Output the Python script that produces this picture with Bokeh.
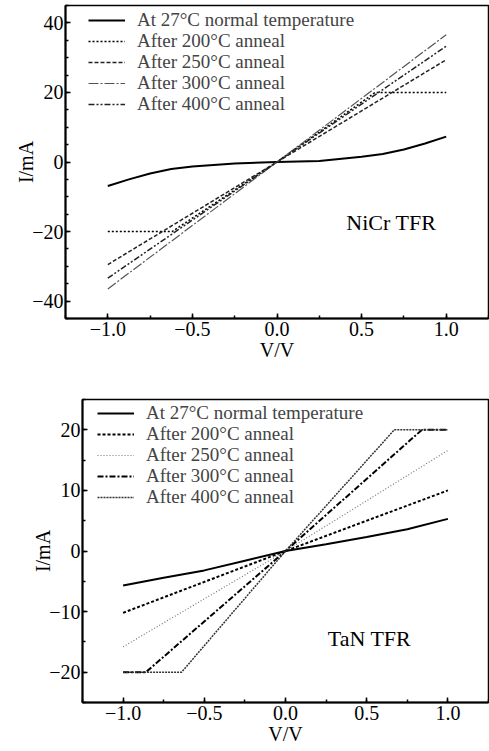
from bokeh.plotting import figure
from bokeh.models import (Range1d, SingleIntervalTicker, CustomJSTickFormatter,
                          Label, Legend, LegendItem)
from bokeh.embed import file_html
from bokeh.resources import INLINE

# ---------------- data ----------------
legend_labels = ["At 27\u00b0C normal temperature", "After 200\u00b0C anneal",
                 "After 250\u00b0C anneal", "After 300\u00b0C anneal",
                 "After 400\u00b0C anneal"]

# NiCr TFR
nicr_27_v = [-1.0, -0.875, -0.75, -0.625, -0.5, -0.25, 0.0, 0.25, 0.5, 0.625, 0.75, 0.875, 1.0]
nicr_27_i = [-6.9, -5.0, -3.3, -2.0, -1.3, -0.4, 0.0, 0.3, 1.5, 2.3, 3.6, 5.3, 7.3]
nicr_200_v = [-1.0, -0.62, 0.0, 0.58, 1.0]
nicr_200_i = [-20.0, -20.0, 0.0, 20.0, 20.0]
nicr_250_v = [-1.0, 0.0, 1.0]
nicr_250_i = [-29.5, 0.0, 29.4]
nicr_300_v = [-1.0, 0.0, 1.0]
nicr_300_i = [-36.5, 0.0, 36.6]
nicr_400_v = [-1.0, 0.0, 1.0]
nicr_400_i = [-33.4, 0.0, 33.3]

# TaN TFR
tan_27_v = [-1.0, -0.75, -0.5, -0.25, 0.0, 0.25, 0.5, 0.75, 1.0]
tan_27_i = [-5.7, -4.4, -3.2, -1.6, 0.0, 1.1, 2.3, 3.6, 5.3]
tan_200_v = [-1.0, 0.0, 1.0]
tan_200_i = [-10.2, 0.0, 10.0]
tan_250_v = [-1.0, 0.0, 1.0]
tan_250_i = [-15.8, 0.0, 16.6]
tan_300_v = [-1.0, -0.86, 0.0, 0.84, 1.0]
tan_300_i = [-20.0, -20.0, 0.0, 20.0, 20.0]
tan_400_v = [-1.0, -0.64, 0.0, 0.67, 1.0]
tan_400_i = [-20.0, -20.0, 0.0, 20.0, 20.0]

FONT = "Liberation Serif"

xfmt = "return (tick < 0 ? '\\u2212' : '') + Math.abs(tick).toFixed(1);"
yfmt = "return (tick < 0 ? '\\u2212' : '') + Math.abs(tick).toFixed(0);"


def make_fig(height, ylim, yint, border_left, border_top, border_bottom):
    p = figure(width=489, height=height, output_backend="svg", toolbar_location=None,
               x_range=Range1d(-1.25, 1.25), y_range=Range1d(-ylim, ylim),
               min_border_left=border_left, min_border_right=1,
               min_border_top=border_top, min_border_bottom=border_bottom)
    p.grid.visible = False
    p.outline_line_color = "black"
    p.outline_line_width = 1.5
    p.xaxis.ticker = SingleIntervalTicker(interval=0.5, num_minor_ticks=2)
    p.yaxis.ticker = SingleIntervalTicker(interval=yint, num_minor_ticks=4 if yint == 20 else 2)
    p.xaxis.formatter = CustomJSTickFormatter(code=xfmt)
    p.yaxis.formatter = CustomJSTickFormatter(code=yfmt)
    for ax in (p.xaxis, p.yaxis):
        ax.axis_line_width = 2
        ax.axis_line_color = "black"
        ax.major_tick_in = 5
        ax.major_tick_out = 0
        ax.minor_tick_in = 3
        ax.minor_tick_out = 0
        ax.major_tick_line_width = 1.5
        ax.minor_tick_line_width = 1.5
        ax.major_label_text_font = FONT
        ax.major_label_text_font_size = "20px"
        ax.major_label_text_color = "black"
        ax.axis_label_text_font = FONT
        ax.axis_label_text_font_size = "20px"
        ax.axis_label_text_font_style = "normal"
        ax.axis_label_text_color = "black"
    p.xaxis.axis_label = "V/V"
    p.yaxis.axis_label = "I/mA"
    p.xaxis.major_label_standoff = 3
    p.xaxis.axis_label_standoff = 0
    p.yaxis.major_label_standoff = 2
    p.yaxis.axis_label_standoff = -8
    return p


def add_legend(p, renderers, x0, frame_h, first_c, step):
    # one legend row per entry so that rows can sit as close as in the original
    row_h = 22.0
    for i, (lab, rnd) in enumerate(zip(legend_labels, renderers)):
        c = first_c + step * i
        y = frame_h - c - row_h / 2
        lg = Legend(items=[LegendItem(label=lab, renderers=[rnd])],
                    location=(x0, y), margin=0, padding=0, spacing=0,
                    label_text_font=FONT, label_text_font_size="19px",
                    label_height=18, glyph_height=18, glyph_width=37, label_standoff=12,
                    background_fill_alpha=0, border_line_alpha=0)
        p.add_layout(lg, "center")


# ---------------- NiCr ----------------
p1 = make_fig(389, 45, 20, 65, 5, 71)
r = []
r.append(p1.line(nicr_27_v, nicr_27_i, line_color="black", line_width=2))
r.append(p1.line(nicr_200_v, nicr_200_i, line_color="black", line_width=1.5, line_dash="2 2"))
r.append(p1.line(nicr_250_v, nicr_250_i, line_color="#222222", line_width=1.5, line_dash="4 2"))
r.append(p1.line(nicr_300_v, nicr_300_i, line_color="#555555", line_width=1.2, line_dash="10 2 2 2"))
r.append(p1.line(nicr_400_v, nicr_400_i, line_color="#222222", line_width=1.5, line_dash="6 2 2 2 2 2"))
add_legend(p1, r, 23, 313, 14.5, 21)
p1.add_layout(Label(x=0.41, y=-17.5, text="NiCr TFR", text_font=FONT,
                    text_font_size="22px", text_baseline="middle", text_color="black"))

# ---------------- TaN ----------------
p2 = make_fig(362, 25, 10, 82, 10, 49)
r = []
r.append(p2.line(tan_27_v, tan_27_i, line_color="black", line_width=2))
r.append(p2.line(tan_200_v, tan_200_i, line_color="black", line_width=2, line_dash="3 2"))
r.append(p2.line(tan_250_v, tan_250_i, line_color="#777777", line_width=1.2, line_dash="1 2"))
r.append(p2.line(tan_300_v, tan_300_i, line_color="black", line_width=2, line_dash="6 2 2 2"))
r.append(p2.line(tan_400_v, tan_400_i, line_color="#333333", line_width=1.5, line_dash="2 1"))
add_legend(p2, r, 15, 303, 14, 21)
p2.add_layout(Label(x=0.26, y=-14.5, text="TaN TFR", text_font=FONT,
                    text_font_size="22px", text_baseline="middle", text_color="black"))

open("out.html", "w").write(file_html([p1, p2], INLINE))
